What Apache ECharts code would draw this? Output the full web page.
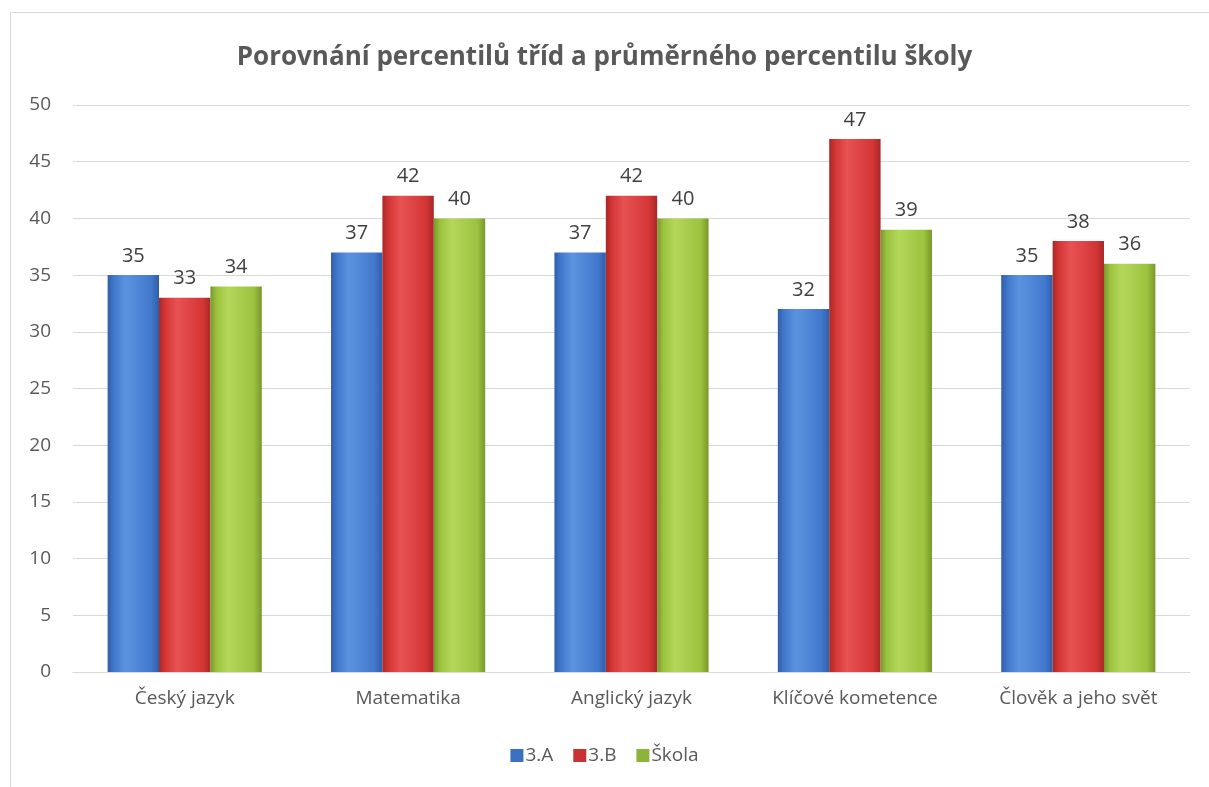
<!DOCTYPE html>
<html>
<head>
<meta charset="utf-8">
<script src="https://cdn.jsdelivr.net/npm/echarts@6/dist/echarts.min.js"></script>
<style>
    html, body { margin: 0; padding: 0; background: #fff; }
    .frame {
        position: absolute;
        left: 10px;
        top: 12px;
        width: 1205px;
        height: 785px;
        border: 1px solid #d9d9d9;
        box-sizing: border-box;
    }
    #chart { position: absolute; left: 0; top: 0; width: 1209px; height: 787px; }
</style>
</head>
<body>
<div class="frame"></div>
<div id="chart"></div>
<script>
const categories = ['Český jazyk', 'Matematika', 'Anglický jazyk', 'Klíčové kometence', 'Člověk a jeho svět'];
const classA = [35, 37, 37, 32, 35];
const classB = [33, 42, 42, 47, 38];
const school = [34, 40, 40, 39, 36];

function barFill(dark, mid, light) {
    return new echarts.graphic.LinearGradient(0, 0, 1, 0, [
        { offset: 0, color: dark },
        { offset: 0.12, color: mid },
        { offset: 0.35, color: light },
        { offset: 0.85, color: mid },
        { offset: 1, color: dark }
    ]);
}

function makeSeries(name, data, dark, mid, light) {
    return {
        name: name,
        type: 'bar',
        data: data,
        barGap: '0%',
        barCategoryGap: '31%',
        itemStyle: { color: barFill(dark, mid, light) },
        label: {
            show: true,
            position: 'top',
            distance: 9,
            fontSize: 20,
            color: '#404040',
            fontFamily: 'Open Sans'
        }
    };
}

let myChart = echarts.init(document.getElementById('chart'));
let option = {
    animation: false,
    title: {
        text: 'Porovnání percentilů tříd a průměrného percentilu školy',
        left: 'center',
        top: 40,
        textStyle: {
            fontFamily: 'Open Sans',
            fontSize: 26,
            fontWeight: 'bold',
            color: '#595959'
        }
    },
    legend: {
        bottom: 17,
        left: 'center',
        itemWidth: 13,
        itemHeight: 13,
        itemGap: 20,
        icon: 'rect',
        textStyle: { fontFamily: 'Open Sans', fontSize: 19, color: '#595959', padding: [0, 0, 0, -3] },
        data: [
            { name: '3.A', itemStyle: { color: '#3b6fc0' } },
            { name: '3.B', itemStyle: { color: '#c83232' } },
            { name: 'Škola', itemStyle: { color: '#8db33a' } }
        ]
    },
    grid: { left: 73, right: 19, top: 105, bottom: 115 },
    xAxis: {
        type: 'category',
        data: categories,
        axisTick: { show: false },
        axisLine: { lineStyle: { color: '#d9d9d9', width: 1 } },
        axisLabel: { fontFamily: 'Open Sans', fontSize: 19, color: '#595959', margin: 17 }
    },
    yAxis: {
        type: 'value',
        min: 0,
        max: 50,
        interval: 5,
        axisLine: { show: false },
        axisTick: { show: false },
        splitLine: { lineStyle: { color: '#d9d9d9', width: 1 } },
        axisLabel: { fontFamily: 'Open Sans', fontSize: 19, color: '#595959', margin: 22 }
    },
    series: [
        makeSeries('3.A', classA, '#2f5ea8', '#4178cc', '#5c93e0'),
        makeSeries('3.B', classB, '#a82828', '#d43535', '#e85252'),
        makeSeries('Škola', school, '#76982c', '#9cc23e', '#b4d75a')
    ]
};
option && myChart.setOption(option);
</script>
</body>
</html>
